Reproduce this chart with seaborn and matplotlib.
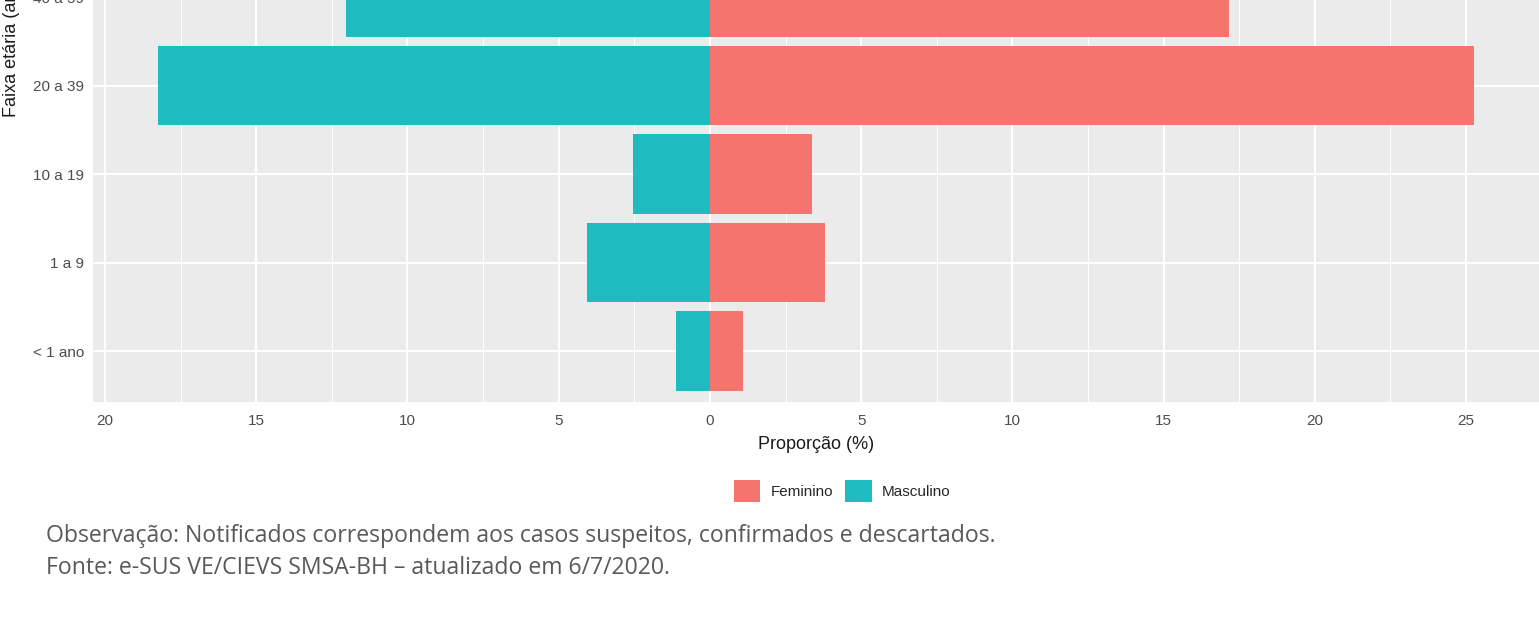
import pandas as pd
import numpy as np
import matplotlib
matplotlib.use("Agg")
import matplotlib.pyplot as plt
import seaborn as sns
from matplotlib.ticker import MultipleLocator, FuncFormatter

faixas = ["40 a 59", "20 a 39", "10 a 19", "1 a 9", "< 1 ano"]
masculino = [12.05, 18.25, 2.55, 4.07, 1.12]
feminino = [17.16, 25.26, 3.37, 3.80, 1.09]
sexos = ["Feminino", "Masculino"]
cores = {"Feminino": "#F4756D", "Masculino": "#1EBCC1"}

x_ticks = [-20, -15, -10, -5, 0, 5, 10, 15, 20, 25]

df = pd.DataFrame({
    "faixa": faixas * 2,
    "sexo": ["Feminino"] * len(faixas) + ["Masculino"] * len(faixas),
    "valor": feminino + [-v for v in masculino],
})

sns.set_style("white")
plt.rcParams["font.family"] = ["Liberation Sans", "DejaVu Sans"]

W, H = 1539, 641
fig = plt.figure(figsize=(W / 100, H / 100), dpi=100)

# panel in pixel coords: left 93, right 1540, bottom 402, top -235 (cut off)
ax = fig.add_axes([93 / W, (H - 402) / H, 1447 / W, 637 / H])
ax.set_facecolor("#EBEBEB")

sns.barplot(
    data=df,
    x="valor",
    y="faixa",
    hue="sexo",
    hue_order=sexos,
    order=faixas,
    palette=cores,
    dodge=False,
    width=0.9,
    orient="h",
    saturation=1,
    linewidth=0,
    ax=ax,
)

ax.set_xlim(-20.40, 27.45)
ax.set_ylim(4.576, 4.576 - 7.2)

ax.xaxis.set_major_locator(plt.FixedLocator(x_ticks))
ax.xaxis.set_minor_locator(MultipleLocator(2.5))
ax.xaxis.set_major_formatter(FuncFormatter(lambda v, p: f"{abs(v):g}"))

ax.grid(which="major", axis="both", color="white", linewidth=1.5)
ax.grid(which="minor", axis="x", color="white", linewidth=0.7)
ax.set_axisbelow(True)

for s in ax.spines.values():
    s.set_visible(False)

ax.tick_params(axis="both", which="major", length=3.5, width=1.0,
               color="#333333", labelsize=11, labelcolor="#4D4D4D", pad=3)
ax.tick_params(axis="x", which="minor", length=0)
ax.tick_params(axis="x", which="major", pad=5)

ax.set_xlabel("Proporção (%)", fontsize=13, color="#1A1A1A", labelpad=6)
ax.set_ylabel("")

fig.text(3 / W, (H - 117) / H, "Faixa etária (anos)", rotation=90,
         ha="left", va="bottom", fontsize=13, color="#1A1A1A")

handles, labels = ax.get_legend_handles_labels()
ax.get_legend().remove()
fig.legend(
    handles, labels,
    loc="center",
    bbox_to_anchor=(842 / W, (H - 491) / H),
    ncol=2,
    frameon=False,
    fontsize=11,
    handlelength=1.75,
    handleheight=1.75,
    handletextpad=0.65,
    columnspacing=0.8,
)

fig.text(46 / W, (H - 542) / H,
         "Observação: Notificados correspondem aos casos suspeitos, confirmados e descartados.",
         ha="left", va="baseline", fontsize=16.6, color="#595959",
         family=["Open Sans", "DejaVu Sans"])
fig.text(46 / W, (H - 574) / H,
         "Fonte: e-SUS VE/CIEVS SMSA-BH – atualizado em 6/7/2020.",
         ha="left", va="baseline", fontsize=16.6, color="#595959",
         family=["Open Sans", "DejaVu Sans"])

fig.savefig("out.png", dpi=100)
